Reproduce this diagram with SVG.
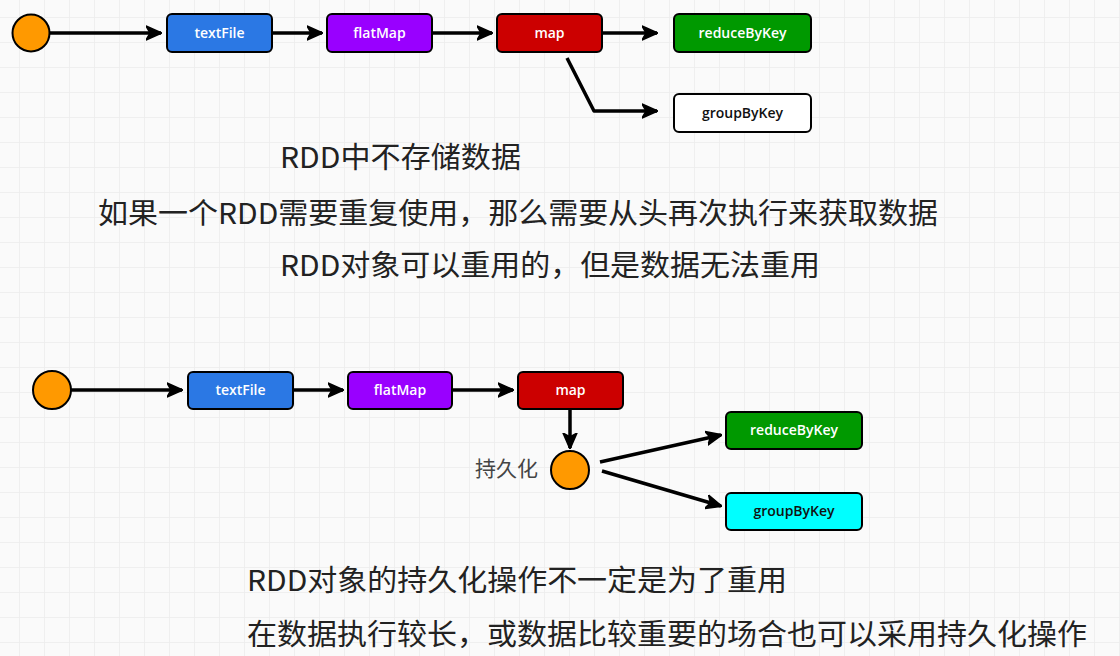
<svg xmlns="http://www.w3.org/2000/svg" width="1120" height="656" viewBox="0 0 1120 656">
<defs>
<pattern id="grid" x="19" y="17" width="25" height="25" patternUnits="userSpaceOnUse">
<path d="M0,0 H25 M0,0 V25" fill="none" stroke="#ececec" stroke-width="1.5"/>
</pattern>
<marker id="ah" viewBox="0 0 16 16" refX="15" refY="8" markerWidth="16" markerHeight="16" markerUnits="userSpaceOnUse" orient="auto">
<path d="M0,1 L16,8 L0,15 L4,8 z" fill="#000" stroke="#000" stroke-width="1.5" stroke-linejoin="round"/>
</marker>
<style>
.box{stroke:#000;stroke-width:2}
.lbl{font-family:"Open Sans","Liberation Sans",sans-serif;font-size:14px;font-weight:600;fill:#fff;text-anchor:middle}
.dark{fill:#111}
.dot{fill:#ff9900;stroke:#000;stroke-width:2}
.conn{fill:none;stroke:#000;stroke-width:3.5;stroke-linejoin:round;marker-end:url(#ah)}
.note{font-family:"Noto Sans CJK SC","Noto Sans",sans-serif;font-size:29px;fill:#222}
</style>
</defs>
<rect width="1120" height="656" fill="#fafafa"/>
<rect width="1120" height="656" fill="url(#grid)"/>

<g id="connectors">
<path class="conn" d="M50,33 H161"/>
<path class="conn" d="M272,33 H322"/>
<path class="conn" d="M432,33 H492"/>
<path class="conn" d="M602,33 H657"/>
<path class="conn" d="M567,58 L594,111 H657"/>
<path class="conn" d="M71,390 H182"/>
<path class="conn" d="M293,390 H343"/>
<path class="conn" d="M452,390 H513"/>
<path class="conn" d="M570,409 V448"/>
<path class="conn" d="M600,462 L721,435"/>
<path class="conn" d="M602,471 L721,506"/>
</g>

<g id="start1"><circle class="dot" cx="31" cy="33" r="18.5"/></g>
<g id="textFile1"><rect class="box" x="167" y="14" width="105" height="38" rx="5" fill="#2b78e4"/><text class="lbl" x="219.5" y="38">textFile</text></g>
<g id="flatMap1"><rect class="box" x="327" y="14" width="105" height="38" rx="5" fill="#9900ff"/><text class="lbl" x="379.5" y="38">flatMap</text></g>
<g id="map1"><rect class="box" x="497" y="14" width="105" height="38" rx="5" fill="#cc0000"/><text class="lbl" x="549.5" y="38">map</text></g>
<g id="reduceByKey1"><rect class="box" x="674" y="14" width="137" height="38" rx="5" fill="#009900"/><text class="lbl" x="742.5" y="38">reduceByKey</text></g>
<g id="groupByKey1"><rect class="box" x="674" y="94" width="137" height="38" rx="5" fill="#ffffff"/><text class="lbl dark" x="742.5" y="118">groupByKey</text></g>

<g id="note1">
<text class="note" x="280" y="168" textLength="241" lengthAdjust="spacingAndGlyphs">RDD中不存储数据</text>
<text class="note" x="98" y="224" textLength="840" lengthAdjust="spacingAndGlyphs">如果一个RDD需要重复使用，那么需要从头再次执行来获取数据</text>
<text class="note" x="280" y="276" textLength="540" lengthAdjust="spacingAndGlyphs">RDD对象可以重用的，但是数据无法重用</text>
</g>

<g id="start2"><circle class="dot" cx="52" cy="390" r="19"/></g>
<g id="textFile2"><rect class="box" x="188" y="372" width="105" height="37" rx="5" fill="#2b78e4"/><text class="lbl" x="240.5" y="395">textFile</text></g>
<g id="flatMap2"><rect class="box" x="348" y="372" width="104" height="37" rx="5" fill="#9900ff"/><text class="lbl" x="400" y="395">flatMap</text></g>
<g id="map2"><rect class="box" x="518" y="372" width="105" height="37" rx="5" fill="#cc0000"/><text class="lbl" x="570.5" y="395">map</text></g>
<g id="persist"><circle class="dot" cx="570" cy="470" r="19"/><text x="538" y="476" text-anchor="end" style="font-family:'Noto Sans CJK SC',sans-serif;font-size:21px;fill:#444">持久化</text></g>
<g id="reduceByKey2"><rect class="box" x="726" y="412" width="136" height="37" rx="5" fill="#009900"/><text class="lbl" x="794" y="435">reduceByKey</text></g>
<g id="groupByKey2"><rect class="box" x="726" y="493" width="136" height="37" rx="5" fill="#00ffff"/><text class="lbl dark" x="794" y="516">groupByKey</text></g>

<g id="note2">
<text class="note" x="247" y="591" textLength="540" lengthAdjust="spacingAndGlyphs">RDD对象的持久化操作不一定是为了重用</text>
<text class="note" x="247" y="645" textLength="840" lengthAdjust="spacingAndGlyphs">在数据执行较长，或数据比较重要的场合也可以采用持久化操作</text>
</g>
</svg>
